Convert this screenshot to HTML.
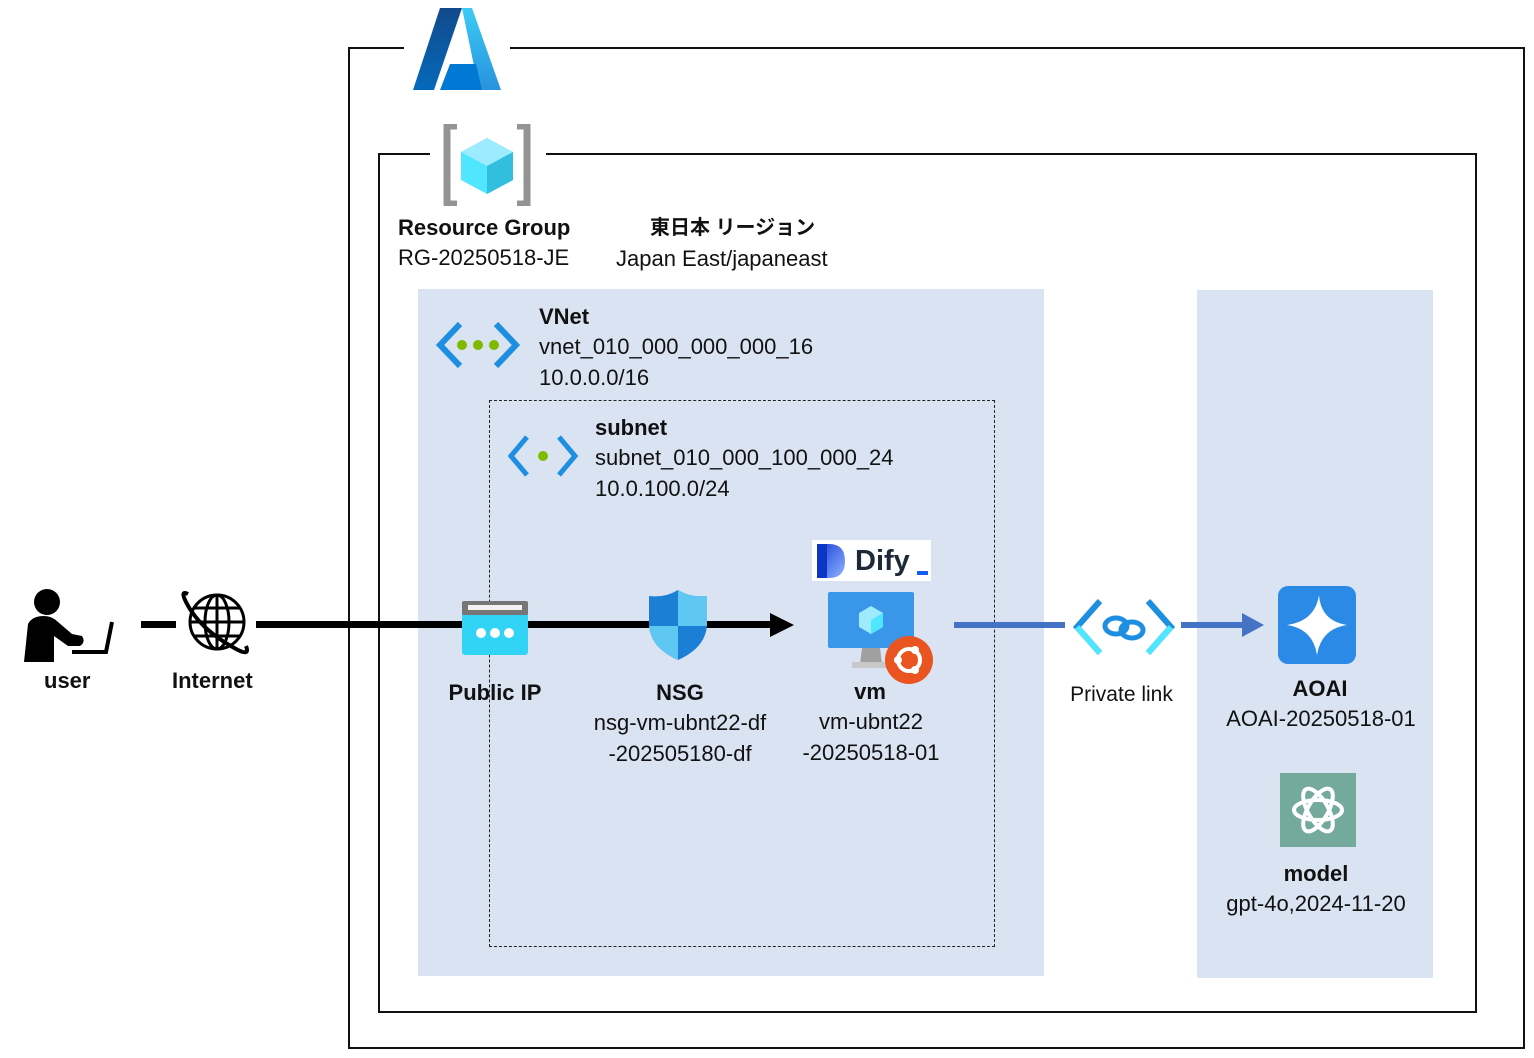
<!DOCTYPE html>
<html><head><meta charset="utf-8"><style>
body{margin:0;width:1534px;height:1058px;background:#fff;position:relative;overflow:hidden;font-family:"Liberation Sans","Noto Sans CJK JP",sans-serif;color:#111}
.a{position:absolute}
.t{position:absolute;font-size:22px;line-height:30px;white-space:nowrap}
.c{text-align:center}
b{font-weight:bold}
</style></head><body>
<!-- frames -->
<div class="a" style="left:348px;top:47px;width:1173px;height:998px;border:2px solid #111"></div>
<div class="a" style="left:404px;top:40px;width:106px;height:20px;background:#fff"></div>
<div class="a" style="left:378px;top:153px;width:1095px;height:856px;border:2px solid #111"></div>
<div class="a" style="left:430px;top:145px;width:116px;height:20px;background:#fff"></div>
<!-- panels -->
<div class="a" style="left:418px;top:289px;width:626px;height:687px;background:#dae3f2"></div>
<div class="a" style="left:1197px;top:290px;width:236px;height:688px;background:#dae3f2"></div>
<div class="a" style="left:489px;top:400px;width:504px;height:545px;border:1px dashed #222"></div>
<div class="a" style="left:1044px;top:589px;width:153px;height:80px;background:#fff"></div>

<!-- Azure logo -->
<svg class="a" style="left:410px;top:6px" width="94" height="86" viewBox="0 0 94 86">
<defs><linearGradient id="az1" x1="0" y1="0" x2="0" y2="1"><stop offset="0" stop-color="#114a8b"/><stop offset="1" stop-color="#0669bc"/></linearGradient>
<linearGradient id="az2" x1="0" y1="0" x2="0" y2="1"><stop offset="0" stop-color="#3ccbf4"/><stop offset="1" stop-color="#2892df"/></linearGradient></defs>
<path d="M30 2 L52 2 L24 84 L3 84 Z" fill="url(#az1)"/>
<path d="M52 2 L62 2 L91 84 L69 84 Z" fill="url(#az2)"/>
<path d="M40 58 L66 58 L72 84 L30 84 Z" fill="#0078d4"/>
</svg>
<!-- resource group icon -->
<svg class="a" style="left:443px;top:124px" width="88" height="82" viewBox="0 0 88 82">
<path d="M14 2 L4 2 L4 80 L14 80" fill="none" stroke="#949494" stroke-width="7"/>
<path d="M74 2 L84 2 L84 80 L74 80" fill="none" stroke="#949494" stroke-width="7"/>
<path d="M44 14 L70 28 L70 56 L44 70 L18 56 L18 28 Z" fill="#50e6ff"/>
<path d="M44 42 L70 28 L70 56 L44 70 Z" fill="#32bedd"/>
<path d="M44 14 L70 28 L44 42 L18 28 Z" fill="#9cebff"/>
</svg>
<div class="t" style="left:398px;top:213px"><b>Resource Group</b></div>
<div class="t" style="left:398px;top:243px">RG-20250518-JE</div>
<div class="t" style="left:650px;top:213px;font-size:20px"><b>東日本 リージョン</b></div>
<div class="t" style="left:616px;top:244px">Japan East/japaneast</div>

<!-- VNet -->
<svg class="a" style="left:436px;top:320px" width="84" height="50" viewBox="0 0 84 50">
<path d="M24 4 L4 25 L24 46" fill="none" stroke="#1e8fe0" stroke-width="6"/>
<path d="M60 4 L80 25 L60 46" fill="none" stroke="#1e8fe0" stroke-width="6"/>
<circle cx="26" cy="25" r="5" fill="#7fba00"/><circle cx="42" cy="25" r="5" fill="#7fba00"/><circle cx="58" cy="25" r="5" fill="#7fba00"/>
</svg>
<div class="t" style="left:539px;top:302px"><b>VNet</b></div>
<div class="t" style="left:539px;top:332px">vnet_010_000_000_000_16</div>
<div class="t" style="left:539px;top:363px">10.0.0.0/16</div>
<!-- subnet -->
<svg class="a" style="left:507px;top:434px" width="72" height="44" viewBox="0 0 72 44">
<path d="M20 3 L4 22 L20 41" fill="none" stroke="#1e8fe0" stroke-width="5"/>
<path d="M52 3 L68 22 L52 41" fill="none" stroke="#1e8fe0" stroke-width="5"/>
<circle cx="36" cy="22" r="5" fill="#7fba00"/>
</svg>
<div class="t" style="left:595px;top:413px"><b>subnet</b></div>
<div class="t" style="left:595px;top:443px">subnet_010_000_100_000_24</div>
<div class="t" style="left:595px;top:474px">10.0.100.0/24</div>

<!-- lines -->
<div class="a" style="left:141px;top:621px;width:35px;height:7px;background:#000"></div>
<div class="a" style="left:256px;top:621px;width:516px;height:7px;background:#000"></div>
<svg class="a" style="left:770px;top:613px" width="26" height="24"><path d="M0 0 L24 12 L0 24Z" fill="#000"/></svg>
<div class="a" style="left:954px;top:622px;width:111px;height:6px;background:#4472c4"></div>
<div class="a" style="left:1181px;top:622px;width:64px;height:6px;background:#4472c4"></div>
<svg class="a" style="left:1242px;top:613px" width="24" height="24"><path d="M0 0 L22 12 L0 24Z" fill="#4472c4"/></svg>

<!-- user -->
<svg class="a" style="left:20px;top:586px" width="96" height="80" viewBox="0 0 96 80">
<circle cx="27" cy="16" r="13" fill="#000"/>
<path d="M4 76 L8 38 Q12 30 24 30 Q32 30 38 36 L52 48 L62 50 Q66 56 60 60 L48 60 L34 50 L34 76 Z" fill="#000"/>
<path d="M52 66 L86 66 L92 36" fill="none" stroke="#000" stroke-width="4"/>
</svg>
<div class="t" style="left:44px;top:666px"><b>user</b></div>
<!-- globe -->
<svg class="a" style="left:180px;top:586px" width="74" height="72" viewBox="0 0 74 72">
<g fill="none" stroke="#000" stroke-width="3">
<circle cx="37" cy="36" r="27"/><ellipse cx="37" cy="36" rx="12" ry="27"/>
<line x1="10" y1="36" x2="64" y2="36"/><line x1="37" y1="9" x2="37" y2="63"/>
<path d="M14 22 H60 M14 50 H60"/>
<path d="M8 8 Q0 4 6 16 Q20 44 58 64 Q70 70 66 60" stroke-width="4"/>
</g></svg>
<div class="t" style="left:172px;top:666px"><b>Internet</b></div>

<!-- public IP -->
<svg class="a" style="left:461px;top:600px" width="68" height="56" viewBox="0 0 68 56">
<rect x="1" y="1" width="66" height="54" rx="3" fill="#32d4f5"/>
<rect x="1" y="1" width="66" height="14" rx="2" fill="#767676"/>
<rect x="7" y="5" width="54" height="5" fill="#f2f2f2"/>
<circle cx="20" cy="33" r="5" fill="#fff"/><circle cx="34" cy="33" r="5" fill="#fff"/><circle cx="48" cy="33" r="5" fill="#fff"/>
</svg>
<div class="t c" style="left:430px;top:678px;width:130px"><b>Public IP</b></div>
<!-- NSG -->
<svg class="a" style="left:647px;top:588px" width="62" height="74" viewBox="0 0 62 74">
<path d="M31 2 Q44 10 60 8 L60 38 Q58 60 31 72 Q4 60 2 38 L2 8 Q18 10 31 2Z" fill="#1c7fd6"/>
<path d="M31 2 L31 38 L60 38 L60 8 Q44 10 31 2Z" fill="#5ec8f2"/>
<path d="M31 38 L31 72 Q4 60 2 38Z" fill="#5ec8f2"/>
</svg>
<div class="t c" style="left:580px;top:678px;width:200px"><b>NSG</b></div>
<div class="t c" style="left:560px;top:708px;width:240px">nsg-vm-ubnt22-df</div>
<div class="t c" style="left:560px;top:739px;width:240px">-202505180-df</div>

<!-- Dify -->
<div class="a" style="left:812px;top:540px;width:119px;height:41px;background:#fff"></div>
<svg class="a" style="left:815px;top:542px" width="32" height="38" viewBox="0 0 32 38"><defs><linearGradient id="dg" x1="0" y1="0" x2="1" y2="1"><stop offset="0" stop-color="#1a3dd6"/><stop offset="1" stop-color="#8fb4ff"/></linearGradient></defs><path d="M2 2 L14 2 Q30 2 30 19 Q30 36 14 36 L2 36Z" fill="url(#dg)"/><rect x="2" y="2" width="10" height="34" fill="#0b36c4"/></svg>
<div class="t" style="left:855px;top:543px;font-size:29px;line-height:36px;font-weight:bold;color:#1d2939">Dify</div>
<div class="a" style="left:917px;top:571px;width:11px;height:4px;background:#155eef"></div>
<!-- vm -->
<svg class="a" style="left:828px;top:590px" width="108" height="96" viewBox="0 0 108 96">
<rect x="0" y="2" width="86" height="56" rx="2" fill="#3a96e8"/>
<path d="M43 16 L55 23 L55 37 L43 44 L31 37 L31 23Z" fill="#9cebff"/>
<path d="M43 30 L55 23 L55 37 L43 44Z" fill="#50e6ff"/>
<path d="M34 58 L52 58 L54 74 L32 74Z" fill="#a0a0a0"/>
<rect x="24" y="72" width="38" height="6" fill="#c8c8c8"/>
<circle cx="81" cy="70" r="24" fill="#e95420"/>
<circle cx="81" cy="70" r="11" fill="none" stroke="#fff" stroke-width="4"/>
<circle cx="70" cy="70" r="4" fill="#fff"/><circle cx="87" cy="60" r="4" fill="#fff"/><circle cx="87" cy="80" r="4" fill="#fff"/>
</svg>
<div class="t c" style="left:800px;top:677px;width:140px"><b>vm</b></div>
<div class="t c" style="left:771px;top:707px;width:200px">vm-ubnt22</div>
<div class="t c" style="left:771px;top:738px;width:200px">-20250518-01</div>

<!-- private link -->
<svg class="a" style="left:1072px;top:597px" width="104" height="62" viewBox="0 0 104 62">
<path d="M28 4 L5 30 L28 56" fill="none" stroke="#1e8fe0" stroke-width="6"/>
<path d="M76 4 L99 30 L76 56" fill="none" stroke="#1e8fe0" stroke-width="6"/>
<path d="M5 30 L28 56 M99 30 L76 56" stroke="#50e6ff" stroke-width="6"/>
<ellipse cx="44" cy="29" rx="11" ry="8" fill="none" stroke="#1e8fe0" stroke-width="5"/>
<ellipse cx="60" cy="33" rx="11" ry="8" fill="none" stroke="#1e8fe0" stroke-width="5"/>
</svg>
<div class="t c" style="left:1050px;top:680px;width:143px;font-size:21px">Private link</div>

<!-- AOAI -->
<svg class="a" style="left:1277px;top:585px" width="80" height="80" viewBox="0 0 80 80">
<rect x="1" y="1" width="78" height="78" rx="10" fill="#2a8ae6"/>
<path d="M42 10 Q44 36 70 40 Q44 44 40 70 Q36 44 10 40 Q38 36 42 10Z" fill="#fff"/>
</svg>
<div class="t c" style="left:1220px;top:674px;width:200px"><b>AOAI</b></div>
<div class="t c" style="left:1200px;top:704px;width:242px">AOAI-20250518-01</div>
<!-- model -->
<svg class="a" style="left:1280px;top:773px" width="76" height="74" viewBox="0 0 76 74">
<rect width="76" height="74" fill="#74aa9c"/>
<g fill="none" stroke="#fff" stroke-width="4">
<ellipse cx="38" cy="37" rx="24" ry="10"/><ellipse cx="38" cy="37" rx="24" ry="10" transform="rotate(60 38 37)"/><ellipse cx="38" cy="37" rx="24" ry="10" transform="rotate(120 38 37)"/>
</g></svg>
<div class="t c" style="left:1216px;top:859px;width:200px"><b>model</b></div>
<div class="t c" style="left:1196px;top:889px;width:240px">gpt-4o,2024-11-20</div>
</body></html>
